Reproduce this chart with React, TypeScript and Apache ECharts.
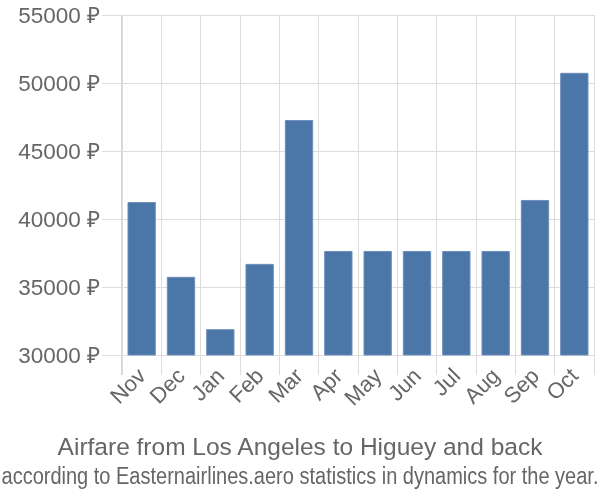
import React, { useEffect, useRef } from "react";
import * as echarts from "echarts";

const months = ["Nov", "Dec", "Jan", "Feb", "Mar", "Apr", "May", "Jun", "Jul", "Aug", "Sep", "Oct"];
const prices = [41250, 35750, 31900, 36700, 47280, 37650, 37650, 37650, 37650, 37650, 41400, 50750];
const yTicks = { min: 30000, max: 55000, interval: 5000 };
const titleText = "Airfare from Los Angeles to Higuey and back";
const subText = "according to Easternairlines.aero statistics in dynamics for the year.";

export default function App() {
  const ref = useRef<HTMLDivElement>(null);
  useEffect(() => {
    const chart = echarts.init(ref.current!, null, { renderer: "svg" });
    const font = "Liberation Sans, Arial, sans-serif";
    chart.setOption({
      animation: false,
      textStyle: { fontFamily: font },
      grid: { left: 122, right: 6, top: 15, bottom: 145, containLabel: false },
      xAxis: {
        type: "category",
        data: months,
        boundaryGap: true,
        axisLine: { show: false },
        axisTick: { show: true, length: 20, lineStyle: { color: "#ddd" } },
        splitLine: { show: true, lineStyle: { color: "#ddd" } },
        axisLabel: { rotate: 45, fontSize: 22, color: "#666", margin: 17, interval: 0 },
      },
      yAxis: {
        type: "value",
        min: yTicks.min,
        max: yTicks.max,
        interval: yTicks.interval,
        axisLine: { show: false },
        axisTick: { show: true, length: 20, lineStyle: { color: "#ddd" } },
        splitLine: { show: true, lineStyle: { color: "#ddd" } },
        axisLabel: { formatter: (v: number) => v + " ₽", fontSize: 22.5, color: "#666", margin: 22 },
      },
      graphic: [
        { type: "line", shape: { x1: 122, y1: 15, x2: 122, y2: 375 }, style: { stroke: "#aaa", lineWidth: 1 } },
        {
          type: "text",
          x: 300,
          y: 446,
          style: { text: titleText, fontSize: 24.5, fill: "#666", fontFamily: font, align: "center", verticalAlign: "middle" },
        },
        {
          type: "text",
          x: 300,
          y: 476,
          scaleX: 0.87,
          style: { text: subText, fontSize: 23, fill: "#666", fontFamily: font, align: "center", verticalAlign: "middle" },
        },
      ],
      series: [
        {
          type: "bar",
          data: prices,
          barCategoryGap: "28%",
          itemStyle: { color: "#4a76a8", borderColor: "#6d8fba", borderWidth: 1 },
        },
      ],
    });
    return () => chart.dispose();
  }, []);
  return <div ref={ref} style={{ position: "fixed", left: 0, top: 0, width: 600, height: 500 }} />;
}
